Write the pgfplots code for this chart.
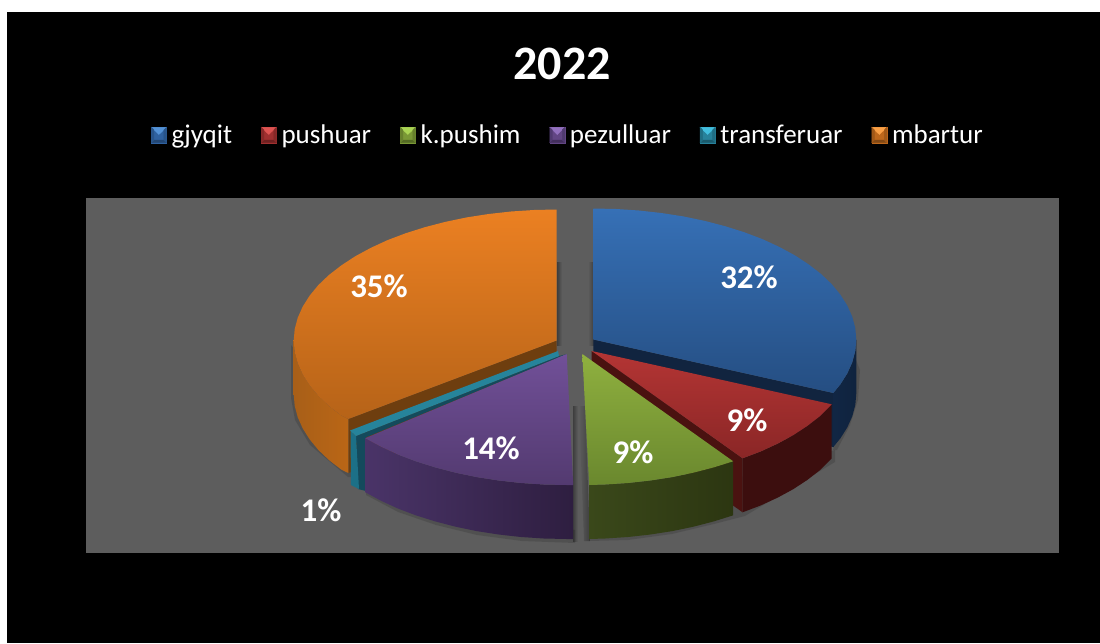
\documentclass[border=0pt]{standalone}
\usepackage{pgfplots}
\pgfplotsset{compat=1.18}
\usepackage{fontspec}
\setmainfont{Carlito}
\definecolor{bgrey}{HTML}{5D5D5D}
\definecolor{shd}{HTML}{3E3E3E}
\definecolor{bcut}{HTML}{11243F}\definecolor{bwl}{HTML}{112644}\definecolor{bwr}{HTML}{0F233E}\definecolor{btop}{HTML}{3670B6}\definecolor{bbot}{HTML}{254E82}
\definecolor{rcut}{HTML}{4A1210}\definecolor{rwall}{HTML}{3C0E0E}\definecolor{rtop}{HTML}{B43534}\definecolor{rbot}{HTML}{8A2626}
\definecolor{gwl}{HTML}{3A481A}\definecolor{gwr}{HTML}{2C3611}\definecolor{gtop}{HTML}{8FB03F}\definecolor{gbot}{HTML}{6A882E}
\definecolor{ocut}{HTML}{6E3E0F}\definecolor{owl}{HTML}{A85F18}\definecolor{owr}{HTML}{BA6616}\definecolor{otop}{HTML}{EB8022}\definecolor{obot}{HTML}{B66318}
\definecolor{tcut}{HTML}{144A5C}\definecolor{twall}{HTML}{1C7087}\definecolor{ttop}{HTML}{26849B}
\definecolor{pwl}{HTML}{4A3468}\definecolor{pwr}{HTML}{2E1E40}\definecolor{ptop}{HTML}{715098}\definecolor{pbot}{HTML}{533A70}
\definecolor{l1a}{HTML}{5492D6}\definecolor{l1b}{HTML}{3062A0}\definecolor{l1c}{HTML}{224673}\definecolor{l1d}{HTML}{28548A}
\definecolor{l2a}{HTML}{DE5452}\definecolor{l2b}{HTML}{A03030}\definecolor{l2c}{HTML}{6E2020}\definecolor{l2d}{HTML}{872828}
\definecolor{l3a}{HTML}{AAD454}\definecolor{l3b}{HTML}{7A9836}\definecolor{l3c}{HTML}{546A24}\definecolor{l3d}{HTML}{66802C}
\definecolor{l4a}{HTML}{9270BE}\definecolor{l4b}{HTML}{624684}\definecolor{l4c}{HTML}{422E5C}\definecolor{l4d}{HTML}{503A70}
\definecolor{l5a}{HTML}{42BEDE}\definecolor{l5b}{HTML}{28829B}\definecolor{l5c}{HTML}{1A5A6C}\definecolor{l5d}{HTML}{206E84}
\definecolor{l6a}{HTML}{FAA046}\definecolor{l6b}{HTML}{BE681C}\definecolor{l6c}{HTML}{824814}\definecolor{l6d}{HTML}{A05818}
\newcommand\pyr[4]{\addlegendimage{legend image code/.code={
  \fill[#2] (0pt,-7.7pt) rectangle (15pt,7.7pt);
  \fill[#1] (0pt,7.7pt) -- (15pt,7.7pt) -- (7.5pt,0.5pt) -- cycle;
  \fill[#3] (0pt,-7.7pt) -- (15pt,-7.7pt) -- (12.5pt,-5pt) -- (2.5pt,-5pt) -- cycle;
  \fill[#4] (0pt,7.7pt) -- (2.5pt,5pt) -- (2.5pt,-5pt) -- (0pt,-7.7pt) -- cycle;
  \fill[#4] (15pt,7.7pt) -- (12.5pt,5pt) -- (12.5pt,-5pt) -- (15pt,-7.7pt) -- cycle;
}}}
\begin{document}
\begin{tikzpicture}
\begin{axis}[
  scale only axis, width=1100pt, height=643pt,
  xmin=0, xmax=1100, ymin=0, ymax=643, y dir=reverse,
  axis lines=none, no markers,
  legend columns=-1,
  legend style={at={(axis cs:567,135)}, anchor=center, draw=none, fill=none,
    text=white, font=\fontsize{27}{29}\selectfont,
    inner sep=0pt, outer sep=0pt,
    /tikz/every odd column/.append style={column sep=5pt},
    /tikz/every even column/.append style={column sep=29pt},
    nodes={inner sep=0pt}},
]
% page background
\addplot[fill=white,draw=none,forget plot] coordinates {(0,0)(1100,0)(1100,643)(0,643)};
\addplot[fill=black,draw=none,forget plot] coordinates {(7,12)(1100,12)(1100,643)(7,643)};
\addplot[fill=bgrey,draw=none,forget plot] coordinates {(86,198)(1059,198)(1059,553)(86,553)};

% soft shadows
\addplot[left color=shd,right color=bgrey,draw=none,forget plot] coordinates {(557,262)(562,262)(562,345)(557,345)};
\addplot[left color=bgrey,right color=shd,draw=none,forget plot] coordinates {(588,262)(594,262)(594,345)(588,345)};
\addplot[left color=shd,right color=bgrey,draw=none,forget plot] coordinates {(573,406)(578,406)(578,541)(573,541)};
\addplot[left color=bgrey,right color=shd,draw=none,forget plot] coordinates {(579,406)(585,406)(590,541)(584,541)};
\addplot[fill=black,draw=none,fill opacity=.13,forget plot] coordinates {(856,360)(860,370)(858,400)(850,425)(837,450)(833,450)};
\addplot[fill=black,draw=none,fill opacity=.13,forget plot] coordinates {(291,345)(291,398)(295,420)(310,445)(348,477)(352,477)(352,420)};
\addplot[fill=black,draw=none,fill opacity=.13,forget plot] coordinates {(366,495)(398,512)(436,525)(477,535)(522,541)(575,543)(575,530)(366,480)};
\addplot[fill=black,draw=none,fill opacity=.13,forget plot] coordinates {(589,541)(628,540)(672,534)(714,524)(745,516)(835,462)(835,450)(589,520)};

% blue slice: cut face, wall, top
\addplot[fill=bcut,draw=none,forget plot] coordinates {(593.3,339.5)(833.3,393)(833.3,447)(593.3,393.5)};
\addplot[left color=bwl,right color=bwr,draw=none,forget plot] coordinates {(856.3,339.5)(855.3,350.9)(852.3,362.2)(847.3,373.4)(840.4,384.3)(833.3,393)(833.3,447)(840.4,438.3)(847.3,427.4)(852.3,416.2)(855.3,404.9)(856.3,393.5)};
\addplot[top color=btop,bottom color=bbot,draw=none,forget plot] coordinates {(593.3,208.5)(616.2,209.0)(639.0,210.5)(661.4,213.0)(683.3,216.4)(704.4,220.8)(724.8,226.1)(744.2,232.2)(762.4,239.1)(779.3,246.9)(794.8,255.3)(808.7,264.4)(821.1,274.0)(831.7,284.1)(840.4,294.7)(847.3,305.6)(852.3,316.8)(855.3,328.1)(856.3,339.5)(855.3,350.9)(852.3,362.2)(847.3,373.4)(840.4,384.3)(833.3,393)(593.3,339.5)};

% red slice
\addplot[fill=rcut,draw=none,forget plot] coordinates {(591.7,351)(742.6,458.3)(742.6,512.3)(591.7,405)};
\addplot[fill=rwall,draw=none,forget plot] coordinates {(742.6,458.3)(760.8,451.4)(777.7,443.6)(793.2,435.2)(807.1,426.1)(819.5,416.5)(831.7,404.3)(831.7,458.3)(819.5,470.5)(807.1,480.1)(793.2,489.2)(777.7,497.6)(760.8,505.4)(742.6,512.3)};
\addplot[top color=rtop,bottom color=rbot,draw=none,forget plot] coordinates {(591.7,351)(831.7,404.3)(819.5,416.5)(807.1,426.1)(793.2,435.2)(777.7,443.6)(760.8,451.4)(742.6,458.3)};

% green slice
\addplot[left color=gwl,right color=gwr,draw=none,forget plot] coordinates {(589.2,485)(605.2,484.5)(628.0,483.0)(650.4,480.5)(672.3,477.1)(693.4,472.7)(713.8,467.4)(733.2,461.3)(733.2,515.3)(713.8,521.4)(693.4,526.7)(672.3,531.1)(650.4,534.5)(628,537)(605.2,538.5)(589.2,539)};
\addplot[top color=gtop,bottom color=gbot,draw=none,forget plot] coordinates {(582.3,354)(733.2,461.3)(713.8,467.4)(693.4,472.7)(672.3,477.1)(650.4,480.5)(628.0,483.0)(605.2,484.5)(589.2,485)};

% orange slice
\addplot[fill=ocut,draw=none,forget plot] coordinates {(556.7,340.5)(348.3,419)(348.3,473)(556.7,394.5)};
\addplot[left color=owl,right color=owr,draw=none,forget plot] coordinates {(293.7,340.5)(294.7,351.9)(297.7,363.2)(302.7,374.4)(309.6,385.3)(318.3,395.9)(328.9,406)(341.3,415.6)(348.3,419)(348.3,473)(341.3,469.6)(328.9,460)(318.3,449.9)(309.6,439.3)(302.7,428.4)(297.7,417.2)(294.7,405.9)(293.7,394.5)};
\addplot[top color=otop,bottom color=obot,draw=none,forget plot] coordinates {(556.7,209.5)(533.8,210)(511,211.5)(488.6,214)(466.7,217.4)(445.6,221.8)(425.2,227.1)(405.8,233.2)(387.6,240.1)(370.7,247.9)(355.2,256.3)(341.3,265.4)(328.9,275)(318.3,285.1)(309.6,295.7)(302.7,306.6)(297.7,317.8)(294.7,329.1)(293.7,340.5)(294.7,351.9)(297.7,363.2)(302.7,374.4)(309.6,385.3)(318.3,395.9)(328.9,406)(341.3,415.6)(348.3,419)(556.7,340.5)};

% teal slice
\addplot[fill=tcut,draw=none,forget plot] coordinates {(356,436)(559,356)(567,354)(366,437.3)(366,491)(358,489)};
\addplot[fill=twall,draw=none,forget plot] coordinates {(350.5,431)(356,436)(359,489)(351,485)};
\addplot[fill=ttop,draw=none,forget plot] coordinates {(350,430.5)(356,436)(559,356)(558,351)};

% purple slice
\addplot[left color=pwl,right color=pwr,draw=none,forget plot] coordinates {(365.2,438.2)(380.7,446.6)(397.6,454.4)(415.8,461.3)(435.2,467.4)(455.6,472.7)(476.7,477.1)(498.6,480.5)(521.0,483.0)(543.8,484.5)(566.7,485)(573.2,485)(573.2,539)(566.7,539)(543.8,538.5)(521,537)(498.6,534.5)(476.7,531.1)(455.6,526.7)(435.2,521.4)(415.8,515.3)(397.6,508.4)(380.7,500.6)(365.2,492.2)};
\addplot[top color=ptop,bottom color=pbot,draw=none,forget plot] coordinates {(566.7,354)(365.2,438.2)(380.7,446.6)(397.6,454.4)(415.8,461.3)(435.2,467.4)(455.6,472.7)(476.7,477.1)(498.6,480.5)(521.0,483.0)(543.8,484.5)(566.7,485)(573.2,485)};

% legend
\pyr{l1a}{l1b}{l1c}{l1d}
\addlegendentry{gjyqit}
\pyr{l2a}{l2b}{l2c}{l2d}
\addlegendentry{pushuar}
\pyr{l3a}{l3b}{l3c}{l3d}
\addlegendentry{k.pushim}
\pyr{l4a}{l4b}{l4c}{l4d}
\addlegendentry{pezulluar}
\pyr{l5a}{l5b}{l5c}{l5d}
\addlegendentry{transferuar}
\pyr{l6a}{l6b}{l6c}{l6d}
\addlegendentry{mbartur}

% texts
\node[text=white,font=\fontsize{48}{48}\selectfont\bfseries] at (axis cs:562,64) {2022};
\node[text=white,font=\fontsize{33}{33}\selectfont\bfseries] at (axis cs:749,277) {32\%};
\node[text=white,font=\fontsize{33}{33}\selectfont\bfseries] at (axis cs:747,420) {9\%};
\node[text=white,font=\fontsize{33}{33}\selectfont\bfseries] at (axis cs:633,452) {9\%};
\node[text=white,font=\fontsize{33}{33}\selectfont\bfseries] at (axis cs:491,448) {14\%};
\node[text=white,font=\fontsize{33}{33}\selectfont\bfseries] at (axis cs:321,510) {1\%};
\node[text=white,font=\fontsize{33}{33}\selectfont\bfseries] at (axis cs:379,286) {35\%};
\end{axis}
\end{tikzpicture}
\end{document}
